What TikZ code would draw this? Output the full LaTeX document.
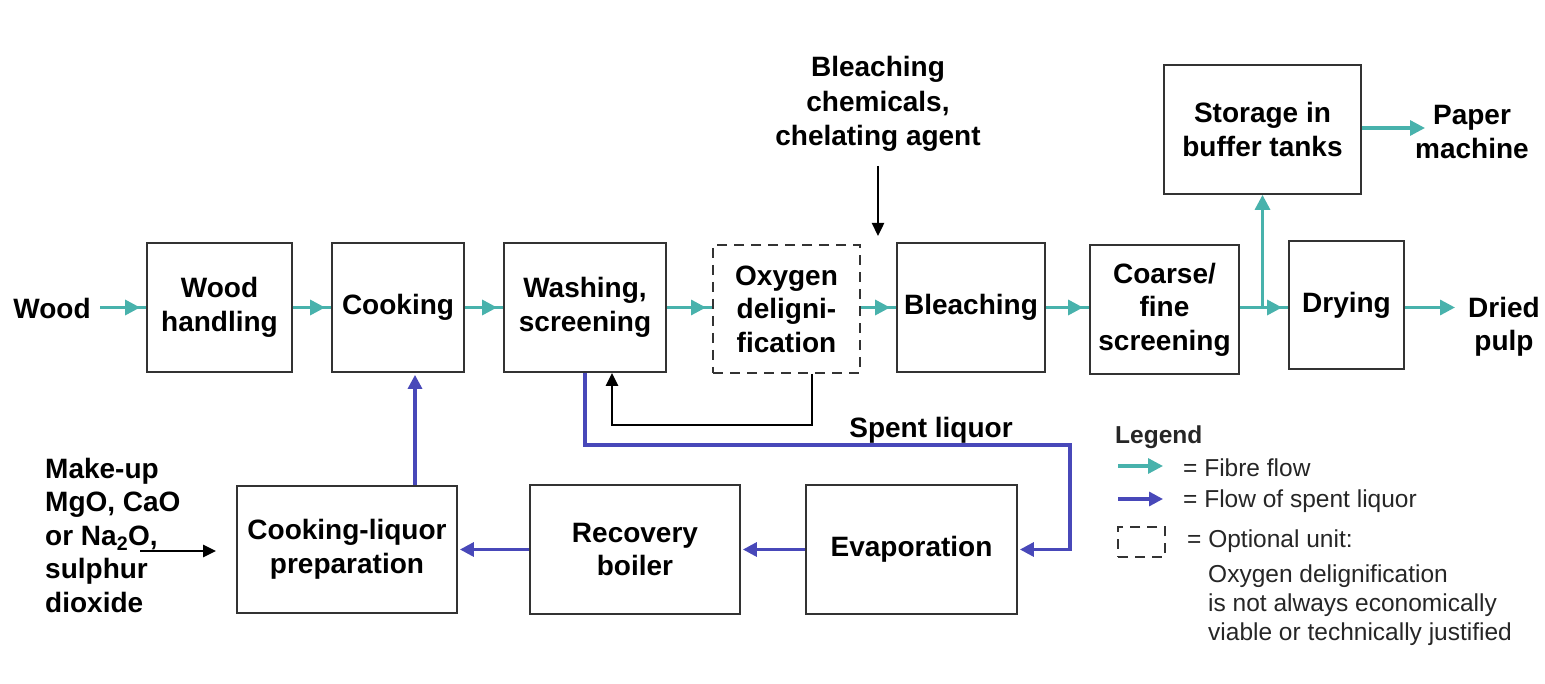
\documentclass[tikz,border=0pt]{standalone}
\usepackage{fontspec}
\setmainfont{Liberation Sans}
\usetikzlibrary{arrows.meta,decorations.markings,calc}
\definecolor{fibrecol}{RGB}{72,178,172}
\definecolor{liqcol}{RGB}{72,72,185}
\newcommand{\diagfont}{\bfseries\fontsize{28}{33.5}\selectfont}
\newcommand{\legfont}{\fontsize{24.5}{29}\selectfont}
\begin{document}
\begin{tikzpicture}[x=1pt,y=-1pt,
  box/.style={draw=black!80, line width=1.8pt, align=center, inner sep=0pt, font=\diagfont},
  optbox/.style={draw=black!80, line width=2pt, dash pattern=on 10pt off 7pt, align=center, inner sep=0pt, font=\diagfont},
  txt/.style={align=center, inner sep=0pt, font=\diagfont},
  legtxt/.style={inner sep=0pt, font=\legfont, text=black!85},
  fibre/.style={color=fibrecol, line width=3.2pt, postaction={decorate},
    decoration={markings, mark=at position -6pt with {\arrow{Triangle[length=15pt,width=15pt]}}}},
  fibreend/.style={color=fibrecol, line width=3.2pt, -{Triangle[length=15pt,width=15pt]}},
  liq/.style={color=liqcol, line width=3.2pt, -{Triangle[length=14pt,width=14pt]}, shorten >=2pt},
  blk/.style={color=black, line width=2.4pt, -{Triangle[length=13pt,width=12pt]}}
]
\useasboundingbox (0,0) rectangle (1545,684);
\fill[white] (0,0) rectangle (1545,684);

% top row
\node[txt] (wood) at (52,308) {Wood};
\node[box, minimum width=145, minimum height=129] (wh) at (219.5,307.5) {Wood\\handling};
\node[box, minimum width=132, minimum height=129] (cook) at (398,307.5) {Cooking};
\node[box, minimum width=162, minimum height=129] (wash) at (585,307.5) {Washing,\\screening};
\node[optbox, minimum width=147, minimum height=128] (oxy) at (786.5,309) {Oxygen\\deligni-\\fication};
\node[box, minimum width=148, minimum height=129] (bleach) at (971,307.5) {Bleaching};
\node[box, minimum width=149, minimum height=129] (coarse) at (1164.5,309.5) {Coarse/\\fine\\screening};
\node[box, minimum width=115, minimum height=128] (dry) at (1346.5,305) {Drying};
\node[box, minimum width=197, minimum height=129] (store) at (1262.5,129.5) {Storage in\\buffer tanks};
\node[txt] (paper) at (1472,132) {Paper\\machine};
\node[txt] (dried) at (1504,327) {Dried\\pulp};
\node[txt, font=\bfseries\fontsize{28}{34.5}\selectfont] (chem) at (878,104) {Bleaching\\chemicals,\\chelating agent};

% bottom row
\node[box, minimum width=220, minimum height=127] (clp) at (347,549.5) {Cooking-liquor\\preparation};
\node[box, minimum width=210, minimum height=129] (rb) at (635,549.5) {Recovery\\boiler};
\node[box, minimum width=211, minimum height=129] (evap) at (911.5,549.5) {Evaporation};
\node[txt, align=left, anchor=west] (makeup) at (45,535) {Make-up\\MgO, CaO\\or Na\textsubscript{2}O,\\sulphur\\dioxide};
\node[txt] (spent) at (931,430) {Spent liquor};

% fibre flow
\coordinate (woodout) at (100,307.5);
\draw[fibre] (woodout) -- (woodout -| wh.west);
\draw[fibre] (wh.east) -- (cook.west);
\draw[fibre] (cook.east) -- (wash.west);
\draw[fibre] (wash.east) -- (wash.east -| oxy.west);
\draw[fibre] (wash.east -| oxy.east) -- (wash.east -| bleach.west);
\draw[fibre] (bleach.east) -- (bleach.east -| coarse.west);
\draw[fibre] (bleach.east -| coarse.east) -- (bleach.east -| dry.west);
\draw[fibreend] (bleach.east -| store.south) -- (store.south);
\coordinate (dryout) at (1455,307.5);
\draw[fibreend] (dryout -| dry.east) -- (dryout);
\coordinate (paperin) at (1425,128);
\draw[fibreend] (paperin -| store.east) -- (paperin);

% black arrows
\coordinate (chemend) at (878,236);
\draw[blk, shorten <=14pt] (chem.south) -- (chemend);
\draw[blk] ([xshift=25.5pt]oxy.south) -- ++(0,51) -| ([xshift=27pt]wash.south);
\coordinate (mkstart) at (140,551);
\draw[blk, shorten >=20pt] (mkstart) -- (mkstart -| clp.west);

% spent liquor
\coordinate (slc) at (1070,445);
\draw[liq] (wash.south) |- (slc) |- (evap.east);
\draw[liq] (evap.west) -- (rb.east);
\draw[liq] (rb.west) -- (clp.east);
\draw[liq] ([xshift=68pt]clp.north) -- ([xshift=68pt]clp.north |- cook.south);

% legend
\node[legtxt, font=\bfseries\legfont, anchor=west] (leg) at (1115,437) {Legend};
\coordinate (lf1) at (1118,466); \coordinate (lf2) at (1163,466);
\draw[fibreend] (lf1) -- (lf2);
\node[legtxt, anchor=west] (lft) at (1183,468) {= Fibre flow};
\coordinate (ll1) at (1118,499); \coordinate (ll2) at (1165,499);
\draw[liq] (ll1) -- (ll2);
\node[legtxt, anchor=west] (llt) at (1183,501) {= Flow of spent liquor};
\node[optbox, minimum width=47, minimum height=30] (lgbox) at (1141.5,542) {};
\node[legtxt, anchor=west] (lgopt) at (1187,541) {= Optional unit:};
\node[legtxt, anchor=west, align=left] (lgnote) at (1208,605) {Oxygen delignification\\is not always economically\\viable or technically justified};
\end{tikzpicture}
\end{document}
